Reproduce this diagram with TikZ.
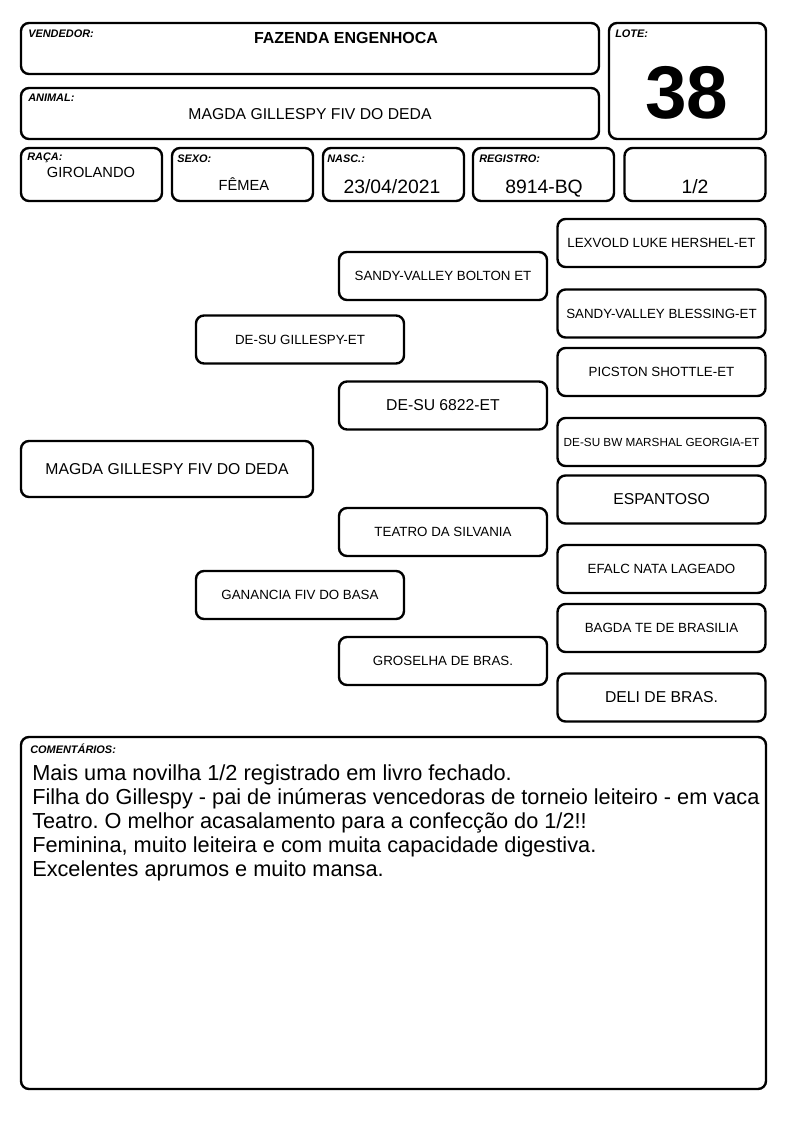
\documentclass[tikz,border=0pt]{standalone}
\usepackage{fontspec}
\setmainfont{Liberation Sans}
\usepackage{tikz}
\usetikzlibrary{positioning}
\frenchspacing

\begin{document}
\begin{tikzpicture}[
  x=0.75pt, y=-0.75pt,
  box/.style={draw, line width=1.8pt, rounded corners=6pt, inner sep=0pt},
  head/.style={box, minimum width=433.5pt, minimum height=38.25pt},
  cell/.style={box, minimum width=105.75pt, minimum height=39.75pt},
  gen/.style={box, minimum width=156pt, minimum height=36pt,
    font=\fontsize{10}{12}\selectfont},
  tiny/.style={font=\fontsize{8.8}{10}\selectfont},
  large/.style={font=\fontsize{11.8}{14}\selectfont},
  lbl/.style={anchor=north west, inner sep=0pt,
    font=\fontsize{8.2}{9}\selectfont\bfseries\itshape},
  val/.style={inner sep=0pt, font=\fontsize{11}{13}\selectfont},
  num/.style={inner sep=0pt, font=\fontsize{14.5}{17}\selectfont},
]
\useasboundingbox (0,0) rectangle (794,1123);

% Header
\node[head] (vend) at (310,48.5) {};
\node[lbl] (vendlbl) at (28,30) {VENDEDOR:};
\node[inner sep=0pt, font=\fontsize{12}{14}\selectfont\bfseries] (vendval) at (346,38) {FAZENDA ENGENHOCA};

\node[head] (anim) at (310,113.5) {};
\node[lbl] (animlbl) at (28,94) {ANIMAL:};
\node[inner sep=0pt, large] (animval) at (310,114) {MAGDA GILLESPY FIV DO DEDA};

\node[box, minimum width=117.75pt, minimum height=87pt] (lote) at (687.5,81) {};
\node[lbl] (lotelbl) at (615,30) {LOTE:};
\node[inner sep=0pt, font=\fontsize{56}{56}\selectfont\bfseries] (loteval) at (687,93) {38};

% Data row
\node[cell] (raca) at (91.5,174.5) {};
\node[lbl] (racalbl) at (27,153) {RAÇA:};
\node[val] (racaval) at (91,172) {GIROLANDO};

\node[cell] (sexo) at (242.5,174.5) {};
\node[lbl] (sexolbl) at (177,155) {SEXO:};
\node[val] (sexoval) at (244,184) {FÊMEA};

\node[cell] (nasc) at (393.5,174.5) {};
\node[lbl] (nasclbl) at (327,155) {NASC.:};
\node[num] (nascval) at (392,187) {23/04/2021};

\node[cell] (reg) at (543.5,174.5) {};
\node[lbl] (reglbl) at (479,155) {REGISTRO:};
\node[num] (regval) at (544,188.5) {8914-BQ};

\node[cell] (grau) at (695,174.5) {};
\node[num] (grauval) at (695,187) {1/2};

% Pedigree
\node[box, minimum width=219pt, minimum height=42pt, large] (self) at (167,469) {MAGDA GILLESPY FIV DO DEDA};

\node[gen] (sire) at (300,339.5) {DE-SU GILLESPY-ET};
\node[gen] (dam) at (300,595) {GANANCIA FIV DO BASA};

\node[gen] (ss) at (443,276) {SANDY-VALLEY BOLTON ET};
\node[gen, large] (sd) at (443,405.5) {DE-SU 6822-ET};
\node[gen] (ds) at (443,532) {TEATRO DA SILVANIA};
\node[gen] (dd) at (443,661) {GROSELHA DE BRAS.};

\node[gen] (sss) at (661.5,243) {LEXVOLD LUKE HERSHEL-ET};
\node[gen] (ssd) at (661.5,313.5) {SANDY-VALLEY BLESSING-ET};
\node[gen] (sds) at (661.5,372) {PICSTON SHOTTLE-ET};
\node[gen, tiny] (sdd) at (661.5,442) {DE-SU BW MARSHAL GEORGIA-ET};
\node[gen, large] (dss) at (661.5,499.5) {ESPANTOSO};
\node[gen] (dsd) at (661.5,569) {EFALC NATA LAGEADO};
\node[gen] (dds) at (661.5,628) {BAGDA TE DE BRASILIA};
\node[gen, large] (ddd) at (661.5,697.5) {DELI DE BRAS.};

% Comments
\node[box, minimum width=558.75pt, minimum height=264pt] (com) at (393.5,913) {};
\node[lbl] (comlbl) at (30,744) {COMENTÁRIOS:};
\node[anchor=north west, inner sep=0pt, align=left,
  font=\fontsize{16.3}{18}\selectfont] (comtxt) at (32,764) {%
  Mais uma novilha 1/2 registrado em livro fechado.\\
  Filha do Gillespy - pai de inúmeras vencedoras de torneio leiteiro - em vaca\\
  Teatro. O melhor acasalamento para a confecção do 1/2!!\\
  Feminina, muito leiteira e com muita capacidade digestiva.\\
  Excelentes aprumos e muito mansa.};

\end{tikzpicture}
\end{document}
